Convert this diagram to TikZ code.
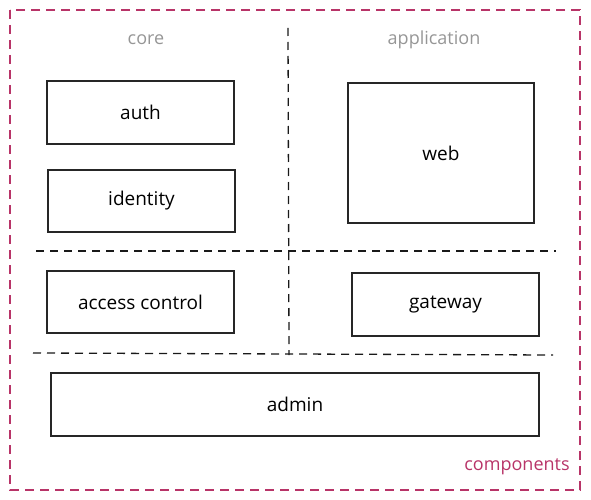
\documentclass[tikz,border=0pt]{standalone}
\usepackage{fontspec}
\setmainfont{Open Sans}
\definecolor{grouppink}{RGB}{184,52,104}
\definecolor{labelgray}{RGB}{150,150,150}
\tikzset{
    comp/.style={draw=black!85, line width=1.4pt, inner sep=0pt, font=\fontsize{19}{22}\selectfont},
    divider/.style={draw=black!90, line width=1.3pt, dash pattern=on 8pt off 6pt},
}
\begin{document}
\begin{tikzpicture}[x=1pt, y=-1pt]
    \useasboundingbox (0,0) rectangle (591,500);

    % Outer group
    \draw[grouppink, line width=1.3pt, dash pattern=on 9pt off 6pt] (10,10) rectangle (580,490);
    \node[grouppink, font=\fontsize{18}{21}\selectfont] (components) at (517,467) {components};

    % Section titles
    \node[labelgray, font=\fontsize{18}{21}\selectfont] (core) at (146,40) {core};
    \node[labelgray, font=\fontsize{18}{21}\selectfont] (application) at (434,40) {application};

    % Dividers
    \coordinate (vtop) at (288,28);
    \coordinate (vbot) at (289,355);
    \coordinate (h1l) at (36,251);
    \coordinate (h1r) at (556,251);
    \coordinate (h2l) at (33,353);
    \coordinate (h2r) at (553,355);
    \draw[divider] (vtop) -- (vbot);
    \draw[divider] (h1l) -- (h1r);
    \draw[divider] (h2l) -- (h2r);

    % Components
    \node[comp, minimum width=187pt, minimum height=63pt] (auth) at (140.5,112.5) {auth};
    \node[comp, minimum width=187pt, minimum height=62pt] (identity) at (141.5,201) {identity};
    \node[comp, minimum width=186pt, minimum height=140pt] (web) at (441,153) {web};
    \node[comp, minimum width=187pt, minimum height=62pt] (access) at (140.5,302) {access control};
    \node[comp, minimum width=187pt, minimum height=63pt] (gateway) at (445.5,304.5) {gateway};
    \node[comp, minimum width=488pt, minimum height=63pt] (admin) at (295,404.5) {admin};
\end{tikzpicture}
\end{document}
